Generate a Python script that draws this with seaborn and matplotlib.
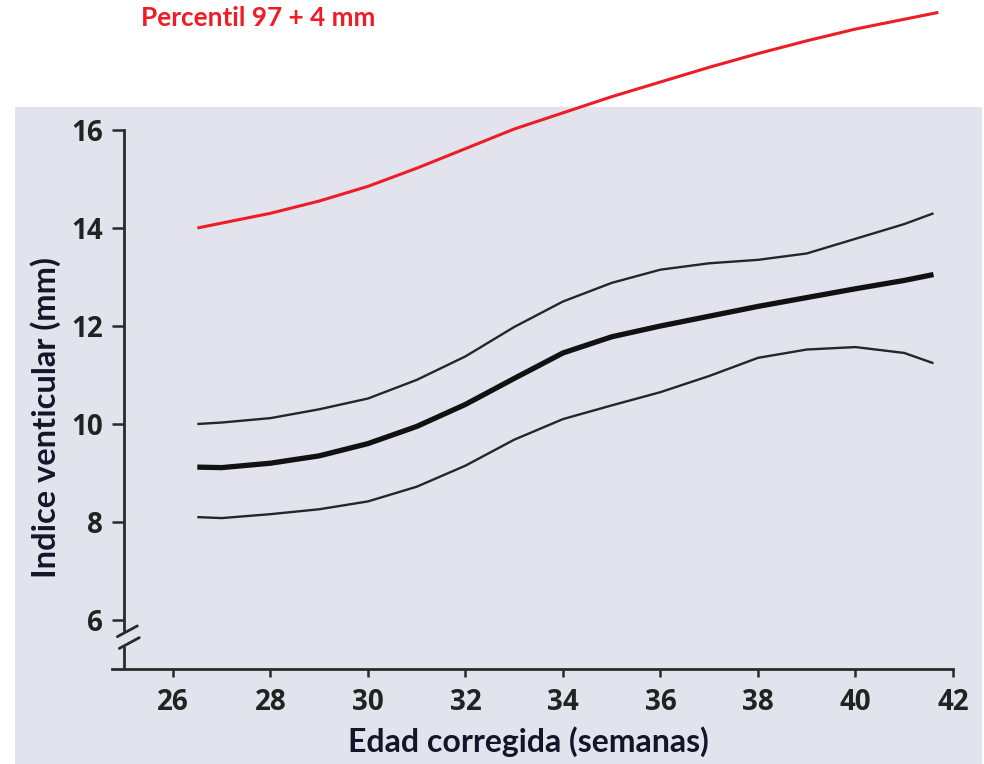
import matplotlib
matplotlib.use("Agg")
import matplotlib.pyplot as plt
from matplotlib.patches import Rectangle
import pandas as pd
import seaborn as sns

# Corrected age (weeks)
edad = [26.5, 27, 28, 29, 30, 31, 32, 33, 34, 35, 36, 37, 38, 39, 40, 41, 41.6]
# Ventricular index percentiles (mm)
p97 = [10.0, 10.03, 10.12, 10.3, 10.52, 10.9, 11.38, 11.98, 12.5, 12.88,
       13.15, 13.28, 13.35, 13.48, 13.78, 14.08, 14.3]
p50 = [9.12, 9.11, 9.2, 9.35, 9.6, 9.95, 10.4, 10.93, 11.45, 11.78,
       12.0, 12.2, 12.4, 12.58, 12.76, 12.93, 13.05]
p3 = [8.1, 8.08, 8.16, 8.26, 8.42, 8.72, 9.15, 9.68, 10.1, 10.38,
      10.65, 10.98, 11.35, 11.52, 11.57, 11.45, 11.24]

# Threshold curve: 97th percentile + 4 mm
edad_umbral = [26.5, 27, 28, 29, 30, 31, 32, 33, 34, 35, 36, 37, 38, 39, 40, 41, 41.7]
umbral = [14.0, 14.1, 14.3, 14.55, 14.85, 15.22, 15.62, 16.02, 16.35, 16.68,
          16.98, 17.28, 17.56, 17.82, 18.06, 18.26, 18.4]

x_ticks = [26, 28, 30, 32, 34, 36, 38, 40, 42]
y_ticks = [6, 8, 10, 12, 14, 16]

titulo = "Percentil 97 + 4 mm"
x_label = "Edad corregida (semanas)"
y_label = "Indice venticular (mm)"

PANEL = "#E3E3EE"
INK = "#2a2a2a"
RED = "#EE1C25"

sns.set_theme(style="ticks")
plt.rcParams["font.family"] = ["Open Sans", "DejaVu Sans"]

W, H = 984, 764
fig = plt.figure(figsize=(W / 100, H / 100), dpi=100)
fig.patch.set_facecolor("white")
panel = Rectangle((15 / W, 0), (982 - 15) / W, (H - 107) / H,
                  transform=fig.transFigure, facecolor=PANEL,
                  edgecolor="none", zorder=-10)
fig.patches.append(panel)

left_px, right_px, top_px, bot_px = 112, 953, 130, 669
ax = fig.add_axes([left_px / W, 1 - bot_px / H,
                   (right_px - left_px) / W, (bot_px - top_px) / H])
ax.set_facecolor("none")
ax.patch.set_alpha(0)

df_bandas = pd.DataFrame({"edad": edad, "p97": p97, "p50": p50, "p3": p3})
df_umbral = pd.DataFrame({"edad": edad_umbral, "umbral": umbral})

sns.lineplot(data=df_bandas, x="edad", y="p97", ax=ax, color="#262626",
             linewidth=1.7, sort=False, estimator=None)
sns.lineplot(data=df_bandas, x="edad", y="p3", ax=ax, color="#262626",
             linewidth=1.7, sort=False, estimator=None)
sns.lineplot(data=df_bandas, x="edad", y="p50", ax=ax, color="#111111",
             linewidth=3.8, sort=False, estimator=None)
sns.lineplot(data=df_umbral, x="edad", y="umbral", ax=ax, color=RED,
             linewidth=2.2, sort=False, estimator=None)
for ln in ax.lines:
    ln.set_solid_capstyle("butt")
    ln.set_solid_joinstyle("round")
ax.lines[-1].set_clip_on(False)

ax.set_xlim(24.75, 42)
ax.set_ylim(5, 16)
ax.set_xticks(x_ticks)
ax.set_yticks(y_ticks)
ax.set_xlabel("")
ax.set_ylabel("")

for side in ("top", "right"):
    ax.spines[side].set_visible(False)
ax.spines["left"].set_position(("data", 25))
ax.spines["left"].set_bounds(5.8, 16)
for side in ("left", "bottom"):
    ax.spines[side].set_color(INK)
    ax.spines[side].set_linewidth(2.0)

# axis break on the y axis
ax.plot([25, 25], [5, 5.46], color=INK, lw=2.0, clip_on=False,
        solid_capstyle="butt")
ax.plot([24.86, 25.27], [5.66, 5.88], color=INK, lw=2.0, clip_on=False)
ax.plot([24.9, 25.31], [5.42, 5.64], color=INK, lw=2.0, clip_on=False)

ax.tick_params(axis="y", direction="out", length=8.5, width=1.8, color=INK,
               pad=7, labelsize=20, labelcolor="#222222")
ax.tick_params(axis="x", direction="out", length=6, width=1.8, color=INK,
               pad=8, labelsize=20, labelcolor="#222222")
for lab in ax.get_xticklabels() + ax.get_yticklabels():
    lab.set_fontweight("bold")

fig.text(528 / W, 1 - 742 / H, x_label, ha="center", va="center",
         fontsize=23, fontweight="bold", color="#15152a",
         family=["Lato", "DejaVu Sans"])
fig.text(46 / W, 1 - 418 / H, y_label, ha="center", va="center",
         rotation=90, fontsize=23.5, fontweight="bold", color="#15152a",
         family=["Lato", "DejaVu Sans"])
fig.text(258 / W, 1 - 18 / H, titulo, ha="center", va="center",
         fontsize=18.8, fontweight="bold", color=RED,
         family=["Lato", "DejaVu Sans"])

fig.savefig("out.png", dpi=100)
